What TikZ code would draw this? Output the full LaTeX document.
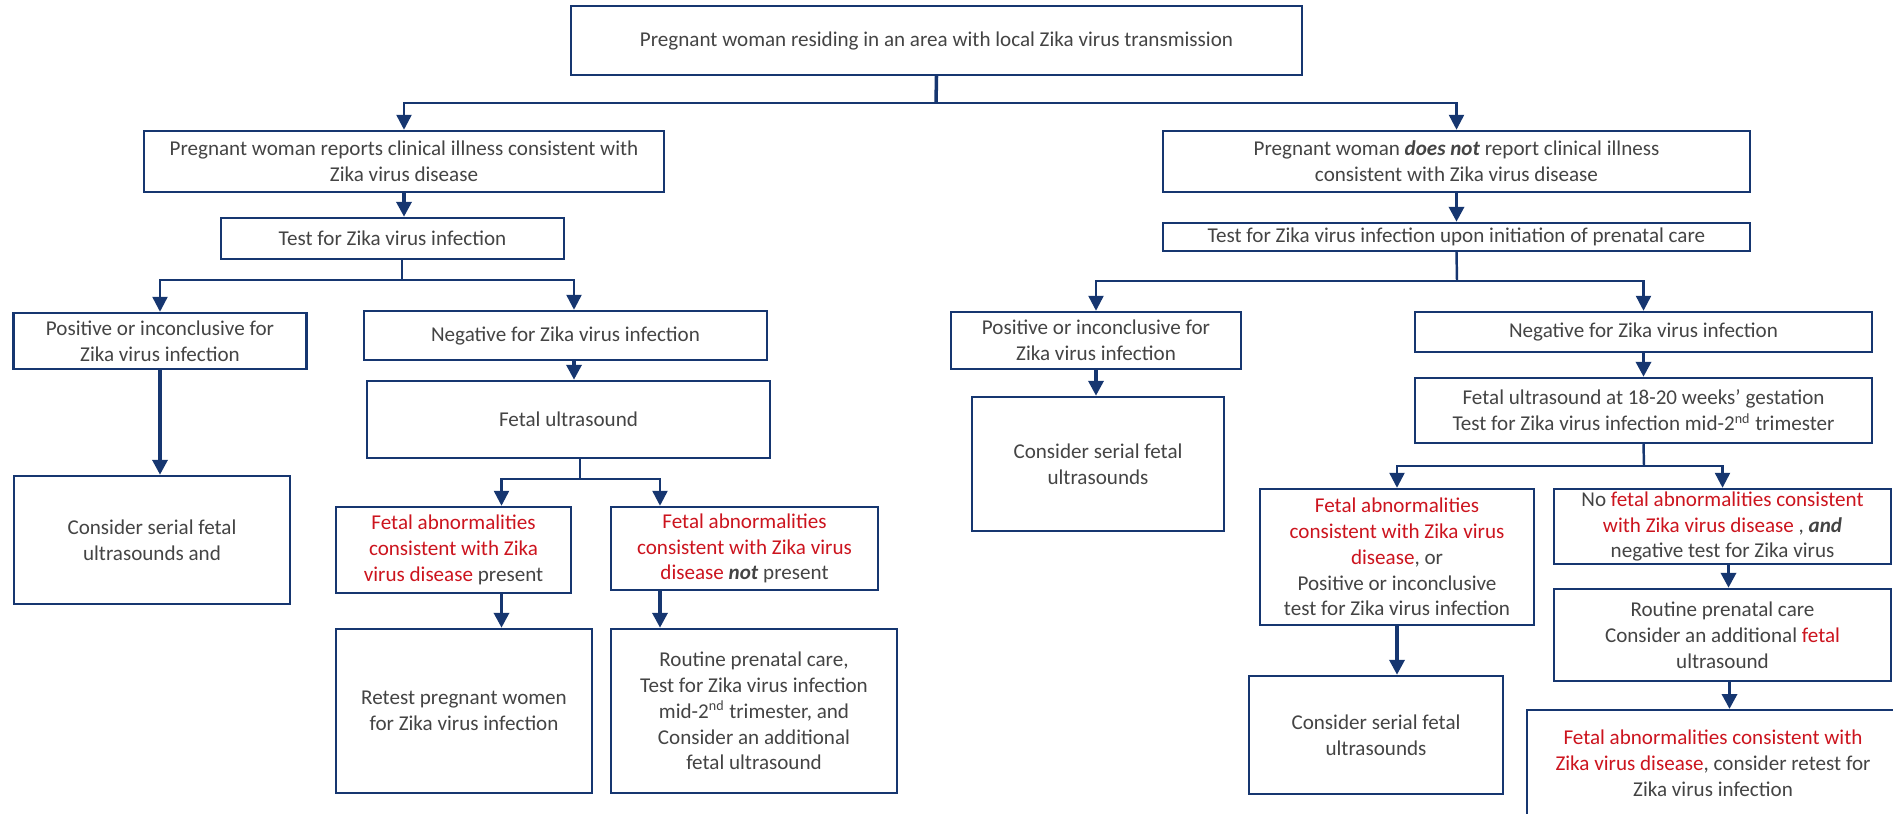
\documentclass[tikz,border=0pt]{standalone}
\usepackage{fontspec}
\setmainfont{Carlito}
\usetikzlibrary{arrows.meta}
\definecolor{znavy}{RGB}{22,54,112}
\definecolor{zred}{RGB}{204,20,30}
\definecolor{zgray}{RGB}{68,68,68}
\newcommand{\abn}[1]{\textcolor{zred}{#1}}
\newcommand{\bfit}[1]{\textbf{\textit{#1}}}
\begin{document}
\begin{tikzpicture}[x=0.2mm, y=-0.2mm, >={Triangle[width=3mm,length=3mm]}, line join=miter,
	font=\fontsize{12}{14.7}\selectfont,
	box/.style={draw=znavy, line width=1.4pt, text=zgray, align=center, inner sep=1pt},
	link/.style={draw=znavy, line width=1.4pt},
	drop/.style={draw=znavy, line width=2pt, ->}]
	\useasboundingbox (0,0) rectangle (1893,814);
	\clip (0,0) rectangle (1893,814);
	\node[box, minimum width=146.2mm, minimum height=13.8mm] (top) at (936.5,40.5) {Pregnant woman residing in an area with local Zika virus transmission};
	\node[box, minimum width=104mm, minimum height=12.2mm] (L1) at (404,161.5) {Pregnant woman reports clinical illness consistent with\\Zika virus disease};
	\node[box, minimum width=117.4mm, minimum height=12.2mm] (R1) at (1456.5,161.5) {Pregnant woman \bfit{does not} report clinical illness\\consistent with Zika virus disease};
	\node[box, minimum width=68.6mm, minimum height=8.2mm] (L2) at (392.5,238.5) {Test for Zika virus infection};
	\node[box, minimum width=117.4mm, minimum height=5.6mm] (R2) at (1456.5,237) {Test for Zika virus infection upon initiation of prenatal care};
	\node[box, minimum width=58.6mm, minimum height=11.2mm] (L3a) at (160,341) {Positive or inconclusive for\\Zika virus infection};
	\node[box, minimum width=80.6mm, minimum height=9.8mm] (L3b) at (565.5,335.5) {Negative for Zika virus infection};
	\node[box, minimum width=58mm, minimum height=11.4mm] (R3a) at (1096,340.5) {Positive or inconclusive for\\Zika virus infection};
	\node[box, minimum width=91.4mm, minimum height=8mm] (R3b) at (1643.5,332) {Negative for Zika virus infection};
	\node[box, minimum width=55.2mm, minimum height=25.6mm] (L4a) at (152,540) {Consider serial fetal\\ultrasounds and};
	\node[box, minimum width=80.6mm, minimum height=15.4mm] (L4b) at (568.5,419.5) {Fetal ultrasound};
	\node[box, minimum width=50.4mm, minimum height=26.8mm] (R4a) at (1098,464) {Consider serial fetal\\ultrasounds};
	\node[box, minimum width=91.4mm, minimum height=13mm] (R4b) at (1643.5,410.5) {Fetal ultrasound at 18-20 weeks’ gestation\\Test for Zika virus infection mid-2\textsuperscript{nd} trimester};
	\node[box, minimum width=47mm, minimum height=17.2mm] (L5a) at (453.5,550) {\abn{Fetal abnormalities}\\\abn{consistent with Zika}\\\abn{virus disease} present};
	\node[box, minimum width=53.4mm, minimum height=16.6mm] (L5b) at (744.5,548.5) {\abn{Fetal abnormalities}\\\abn{consistent with Zika virus}\\\abn{disease} \bfit{not} present};
	\node[box, minimum width=51.2mm, minimum height=32.8mm] (L6a) at (464,711) {Retest pregnant women\\for Zika virus infection};
	\node[box, minimum width=57.2mm, minimum height=32.8mm] (L6b) at (754,711) {Routine prenatal care,\\Test for Zika virus infection\\mid-2\textsuperscript{nd} trimester, and\\Consider an additional\\fetal ultrasound};
	\node[box, minimum width=54.8mm, minimum height=27.2mm] (R5a) at (1397,557) {\abn{Fetal abnormalities}\\\abn{consistent with Zika virus}\\\abn{disease}, or\\Positive or inconclusive\\test for Zika virus infection};
	\node[box, minimum width=67.4mm, minimum height=15mm] (R5b) at (1722.5,526.5) {No \abn{fetal abnormalities consistent}\\\abn{with Zika virus disease} , \bfit{and}\\negative test for Zika virus};
	\node[box, minimum width=50.8mm, minimum height=23.6mm] (R6a) at (1376,735) {Consider serial fetal\\ultrasounds};
	\node[box, minimum width=67.4mm, minimum height=18.4mm] (R6b) at (1722.5,635) {Routine prenatal care\\Consider an additional \abn{fetal}\\ultrasound};
	\node[box, anchor=north, minimum width=74.4mm, inner ysep=4mm, text depth=30mm] (R7) at (1713,709) {\abn{Fetal abnormalities consistent with}\\\abn{Zika virus disease}, consider retest for\\Zika virus infection};
	\coordinate (j0) at (936,103);
	\coordinate (j1) at (402,280);
	\coordinate (j2) at (580,479);
	\coordinate (j3) at (1457,281);
	\coordinate (j4) at (1644,466);
	\draw[drop, -] (top.south) -- (j0);
	\draw[link, ->] (j0) -| (L1);
	\draw[link, ->] (j0) -| (R1);
	\draw[drop] (L1.south) -- (L1.south |- L2.north);
	\draw[link] (L2.south -| j1) -- (j1);
	\draw[link, ->] (j1) -| (L3a);
	\draw[link, ->] (j1) -| ([xshift=1.7mm]L3b.north);
	\draw[drop] (L3a.south) -- (L3a.south |- L4a.north);
	\draw[drop] ([xshift=1.7mm]L3b.south) -- ([xshift=1.7mm]L3b.south |- L4b.north);
	\draw[link] (L4b.south -| j2) -- (j2);
	\draw[link, ->] (j2) -| ([xshift=9.6mm]L5a.north);
	\draw[link, ->] (j2) -| ([xshift=-16.9mm]L5b.north);
	\draw[drop] ([xshift=9.6mm]L5a.south) -- ([xshift=9.6mm]L5a.south |- L6a.north);
	\draw[drop] ([xshift=-16.9mm]L5b.south) -- ([xshift=-16.9mm]L5b.south |- L6b.north);
	\draw[drop] (R1.south) -- (R2.north);
	\draw[link] (R2.south) -- (j3);
	\draw[link, ->] (j3) -| (R3a);
	\draw[link, ->] (j3) -| (R3b);
	\draw[drop] (R3a.south) -- (R3a.south |- R4a.north);
	\draw[drop] (R3b.south) -- (R4b.north);
	\draw[link] (R4b.south) -- (j4);
	\draw[link, ->] (j4) -| (R5a);
	\draw[link, ->] (j4) -| (R5b);
	\draw[drop] (R5a.south) -- (R5a.south |- R6a.north);
	\draw[drop] ([xshift=1.2mm]R5b.south) -- ([xshift=1.2mm]R5b.south |- R6b.north);
	\draw[drop] ([xshift=1.4mm]R6b.south) -- ([xshift=1.4mm]R6b.south |- R7.north);
\end{tikzpicture}
\end{document}
